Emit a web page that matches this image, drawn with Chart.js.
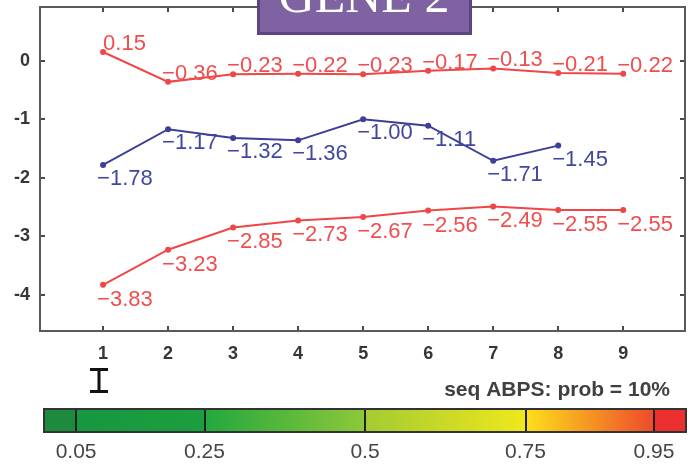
<!DOCTYPE html>
<html>
<head>
<meta charset="utf-8">
<script src="https://cdn.jsdelivr.net/npm/chart.js@4/dist/chart.umd.min.js"></script>
<style>
  html, body { margin: 0; padding: 0; background: #ffffff; }
  canvas { display: block; }
</style>
</head>
<body>
<canvas id="chart" width="691" height="469"></canvas>
<script>
// Step positions and axis ticks
const steps = [1, 2, 3, 4, 5, 6, 7, 8, 9];
const xTickValues = [1, 2, 3, 4, 5, 6, 7, 8, 9];
const yTickValues = [0, -1, -2, -3, -4];

// Series values (upper bound, mean, lower bound)
const upperSeries = [0.15, -0.36, -0.23, -0.22, -0.23, -0.17, -0.13, -0.21, -0.22];
const meanSeries = [-1.78, -1.17, -1.32, -1.36, -1.00, -1.11, -1.71, -1.45];
const lowerSeries = [-3.83, -3.23, -2.85, -2.73, -2.67, -2.56, -2.49, -2.55, -2.55];

// Probability colour bar
const colorBreaks = [0.05, 0.25, 0.5, 0.75, 0.95];
const colorBreakLabels = ['0.05', '0.25', '0.5', '0.75', '0.95'];
const titleText = 'GENE 2';
const noteText = 'seq ABPS: prob = 10%';

const RED = '#ef4646';
const RED_TEXT = '#f04e4e';
const BLUE = '#3c3f98';
const BLUE_TEXT = '#41479e';
const SANS = '"Liberation Sans", Arial, sans-serif';

function toPoints(values) {
  return values.map((v, i) => ({ x: steps[i], y: v }));
}

function fmt(v) {
  const s = Math.abs(v).toFixed(2);
  return v < 0 ? '\u2212' + s : s;
}

// Value labels next to every point
const valueLabels = {
  id: 'valueLabels',
  afterDatasetsDraw(chart) {
    const ctx = chart.ctx;
    ctx.save();
    ctx.font = '22px ' + SANS;
    ctx.textAlign = 'left';
    ctx.textBaseline = 'alphabetic';
    chart.data.datasets.forEach((ds, di) => {
      const meta = chart.getDatasetMeta(di);
      ctx.fillStyle = ds.labelColor;
      meta.data.forEach((pt, i) => {
        const v = ds.data[i].y;
        const dx = v < 0 ? -6 : 0;
        ctx.fillText(fmt(v), pt.x + dx, pt.y + ds.labelBaseline);
      });
    });
    ctx.restore();
  }
};

// Box around the plot with inward ticks on all four sides
const frame = {
  id: 'frame',
  afterDraw(chart) {
    const ctx = chart.ctx;
    const a = chart.chartArea;
    const xs = chart.scales.x, ys = chart.scales.y;
    const len = 5;
    ctx.save();
    ctx.strokeStyle = '#4a4a4a';
    ctx.lineWidth = 2;
    ctx.beginPath();
    xTickValues.forEach(v => {
      const px = Math.round(xs.getPixelForValue(v));
      ctx.moveTo(px, a.bottom); ctx.lineTo(px, a.bottom - len);
      ctx.moveTo(px, a.top); ctx.lineTo(px, a.top + len);
    });
    yTickValues.forEach(v => {
      const py = Math.round(ys.getPixelForValue(v));
      ctx.moveTo(a.left, py); ctx.lineTo(a.left + len, py);
      ctx.moveTo(a.right, py); ctx.lineTo(a.right - len, py);
    });
    ctx.stroke();
    ctx.strokeStyle = '#5a5a5a';
    ctx.strokeRect(a.left, a.top, a.right - a.left, a.bottom - a.top);
    ctx.restore();
  }
};

// Colour bar, note text, error-bar key and title badge
const extras = {
  id: 'extras',
  afterDraw(chart) {
    const ctx = chart.ctx;
    ctx.save();

    // colour bar spans probability 0..1
    const barL = 44, barR = 686, barT = 409, barB = 432;
    const px = p => barL + p * (barR - barL);

    const segs = [
      [0, 0.05, '#1d8a3e', '#1d8a3e'],
      [0.05, 0.25, '#17973f', '#1c9f3f'],
      [0.25, 0.5, '#22a83e', '#8ec83a'],
      [0.5, 0.75, '#a4cb32', '#efe81c'],
      [0.75, 0.95, '#fde01a', '#ee4a2c'],
      [0.95, 1, '#ec3030', '#ec3030']
    ];
    segs.forEach(([p0, p1, c0, c1]) => {
      const x0 = px(p0), x1 = px(p1);
      const g = ctx.createLinearGradient(x0, 0, x1, 0);
      g.addColorStop(0, c0);
      g.addColorStop(1, c1);
      ctx.fillStyle = g;
      ctx.fillRect(x0, barT, x1 - x0, barB - barT);
    });
    ctx.strokeStyle = '#222';
    ctx.lineWidth = 2;
    ctx.beginPath();
    colorBreaks.forEach(p => {
      const x = Math.round(px(p));
      ctx.moveTo(x, barT); ctx.lineTo(x, barB);
    });
    ctx.stroke();
    ctx.strokeStyle = '#333';
    ctx.strokeRect(barL, barT, barR - barL, barB - barT);

    ctx.fillStyle = '#454545';
    ctx.font = '21px ' + SANS;
    ctx.textAlign = 'center';
    ctx.textBaseline = 'middle';
    colorBreaks.forEach((p, i) => ctx.fillText(colorBreakLabels[i], px(p), 452));

    // note above the bar
    ctx.fillStyle = '#404040';
    ctx.font = 'bold 21px ' + SANS;
    ctx.textAlign = 'right';
    ctx.fillText(noteText, 670, 390);

    // error-bar key
    ctx.strokeStyle = '#111';
    ctx.lineWidth = 3;
    ctx.beginPath();
    ctx.moveTo(99, 369); ctx.lineTo(99, 392);
    ctx.moveTo(90, 369.5); ctx.lineTo(108, 369.5);
    ctx.moveTo(90, 391.5); ctx.lineTo(108, 391.5);
    ctx.stroke();

    // title badge
    ctx.fillStyle = '#7e62a2';
    ctx.fillRect(257, -6, 215, 39);
    ctx.strokeStyle = '#5b4683';
    ctx.lineWidth = 3;
    ctx.strokeRect(258.5, -6, 212, 39.5);
    ctx.fillStyle = '#ffffff';
    ctx.font = '50px "Liberation Serif", "Times New Roman", serif';
    ctx.textAlign = 'center';
    ctx.textBaseline = 'alphabetic';
    ctx.fillText(titleText, 364, 12);

    ctx.restore();
  }
};

new Chart(document.getElementById('chart'), {
  type: 'line',
  data: {
    datasets: [
      {
        data: toPoints(upperSeries),
        borderColor: RED, backgroundColor: RED,
        labelColor: RED_TEXT, labelBaseline: -2
      },
      {
        data: toPoints(meanSeries),
        borderColor: BLUE, backgroundColor: BLUE,
        labelColor: BLUE_TEXT, labelBaseline: 20
      },
      {
        data: toPoints(lowerSeries),
        borderColor: RED, backgroundColor: RED,
        labelColor: RED_TEXT, labelBaseline: 21
      }
    ]
  },
  options: {
    responsive: false,
    animation: false,
    devicePixelRatio: 1,
    layout: { padding: { left: 0, top: 7, right: 6, bottom: 0 } },
    elements: {
      line: { borderWidth: 2, tension: 0 },
      point: { radius: 3, borderWidth: 0 }
    },
    plugins: { legend: { display: false }, tooltip: { enabled: false } },
    scales: {
      x: {
        type: 'linear',
        min: 0.03, max: 9.95,
        afterFit(s) { s.height = 138; s.paddingLeft = 0; s.paddingRight = 0; },
        afterBuildTicks(s) { s.ticks = xTickValues.map(v => ({ value: v })); },
        grid: { display: false, drawTicks: false },
        border: { display: false },
        ticks: {
          padding: 12,
          color: '#363636',
          font: { family: SANS, size: 18, weight: 'bold' },
          maxRotation: 0
        }
      },
      y: {
        type: 'linear',
        min: -4.62, max: 0.92,
        afterFit(s) { s.width = 40; s.paddingTop = 0; s.paddingBottom = 0; },
        afterBuildTicks(s) { s.ticks = yTickValues.map(v => ({ value: v })); },
        grid: { display: false, drawTicks: false },
        border: { display: false },
        ticks: {
          padding: 10,
          color: '#363636',
          font: { family: SANS, size: 18, weight: 'bold' },
          callback: v => String(v)
        }
      }
    }
  },
  plugins: [valueLabels, frame, extras]
});
</script>
</body>
</html>
